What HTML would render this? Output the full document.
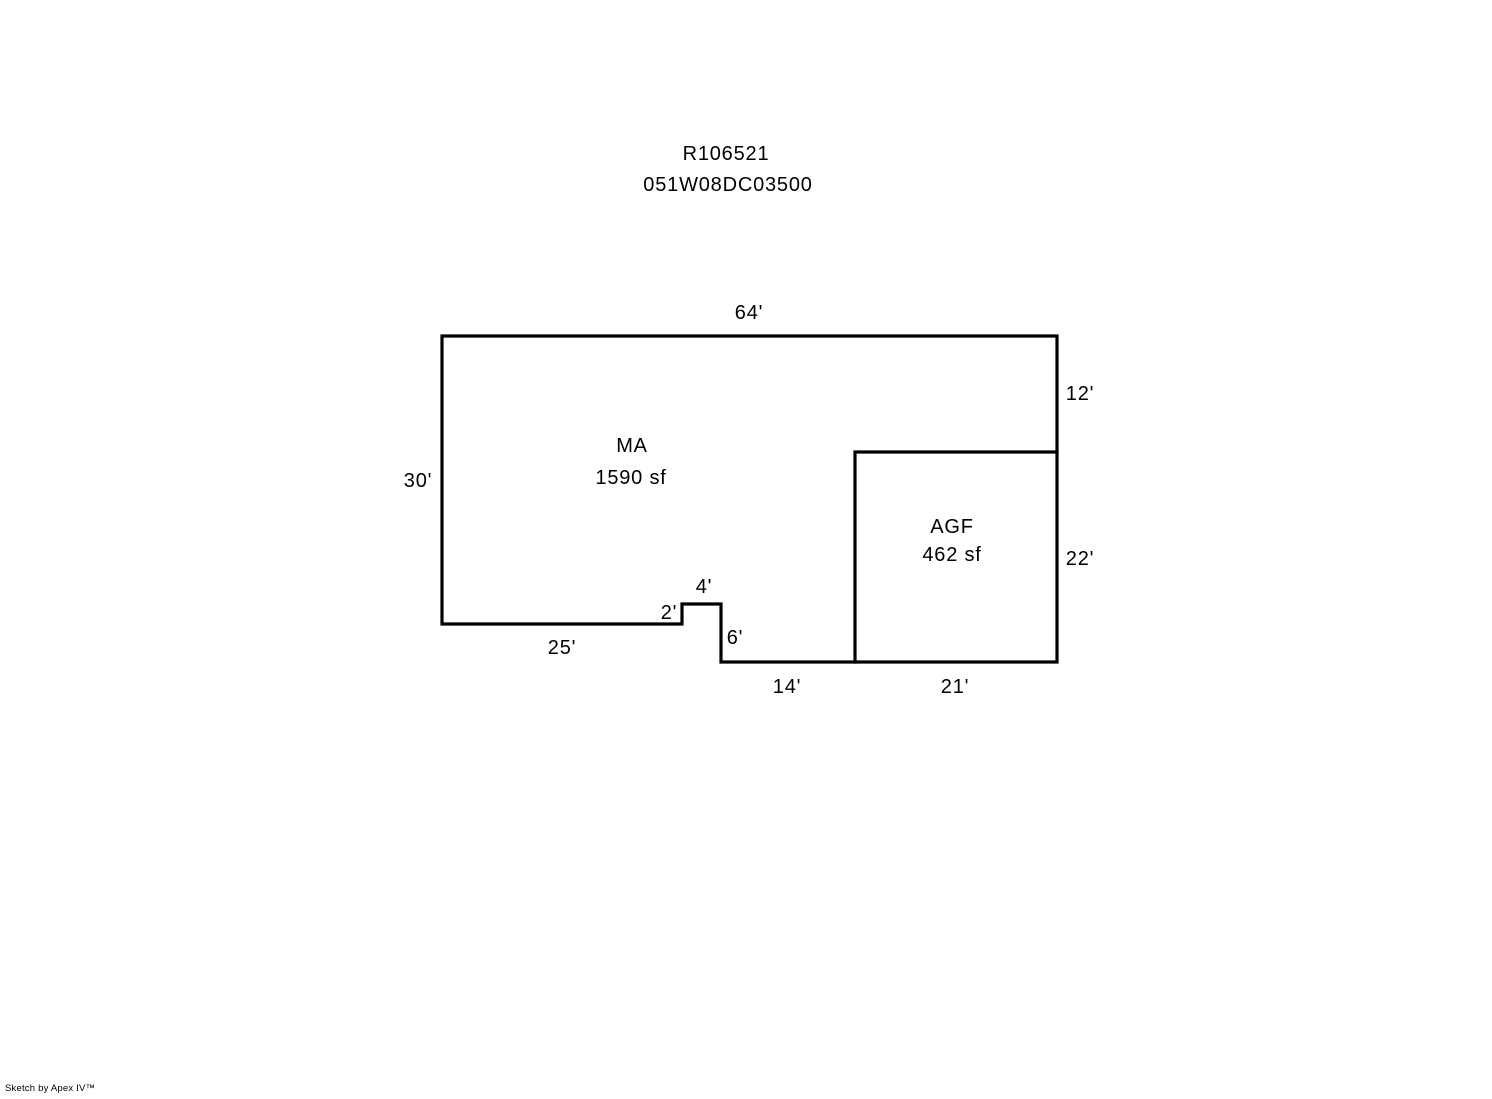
<!DOCTYPE html>
<html><head><style>
body{margin:0;background:#fff;width:1492px;height:1094px;overflow:hidden}
svg text{font-family:"Liberation Sans",Arial,sans-serif;font-size:20px;letter-spacing:0.8px;fill:#000}
</style></head><body>
<svg width="1492" height="1094" xmlns="http://www.w3.org/2000/svg">
<g fill="none" stroke="#000" stroke-width="3.2" stroke-linecap="square">
<polyline points="442,336 1057,336 1057,662 721,662 721,604 682,604 682,624 442,624 442,336"/>
<polyline points="855,662 855,452 1057,452"/>
</g>
<g text-anchor="middle">
<text x="726" y="160">R106521</text>
<text x="728" y="191">051W08DC03500</text>
<text x="749" y="319">64'</text>
<text x="1080" y="400">12'</text>
<text x="418" y="487">30'</text>
<text x="632" y="452">MA</text>
<text x="631" y="484">1590 sf</text>
<text x="952" y="533">AGF</text>
<text x="952" y="561">462 sf</text>
<text x="1080" y="565">22'</text>
<text x="704" y="593">4'</text>
<text x="669" y="619">2'</text>
<text x="735" y="644">6'</text>
<text x="562" y="654">25'</text>
<text x="787" y="693">14'</text>
<text x="955" y="693">21'</text>
</g>
<text x="5" y="1091" style="font-size:9.5px;letter-spacing:0.2px">Sketch by Apex IV™</text>
</svg>
</body></html>
